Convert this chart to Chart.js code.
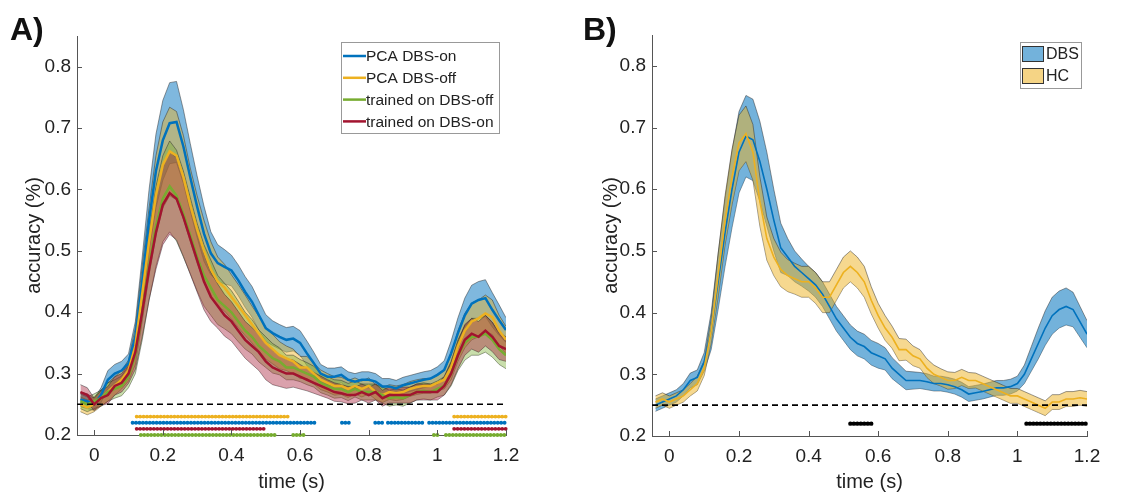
<!DOCTYPE html>
<html>
<head>
<meta charset="utf-8">
<script src="https://cdn.jsdelivr.net/npm/chart.js@4.4.1/dist/chart.umd.min.js"></script>
<style>
    body { margin: 0; background: #fff; }
    #wrap { position: relative; width: 1146px; height: 494px; }
    canvas { position: absolute; top: 0; }
    .tag {
        position: absolute;
        font: bold 32px 'Liberation Sans', Arial, sans-serif;
        line-height: 32px;
        color: #111;
    }
</style>
</head>
<body>
<div id="wrap">
    <canvas id="chartA" width="573" height="494" style="left:0"></canvas>
    <canvas id="chartB" width="573" height="494" style="left:573px"></canvas>
    <div class="tag" style="left:10px;top:13px">A)</div>
    <div class="tag" style="left:583px;top:13px">B)</div>
</div>
<script>
// sample times (s), one value every 20 ms
const times = [-0.04, -0.02, 0.00, 0.02, 0.04, 0.06, 0.08, 0.10, 0.12, 0.14, 0.16, 0.18, 0.20,
    0.22, 0.24, 0.26, 0.28, 0.30, 0.32, 0.34, 0.36, 0.38, 0.40, 0.42, 0.44, 0.46, 0.48, 0.50,
    0.52, 0.54, 0.56, 0.58, 0.60, 0.62, 0.64, 0.66, 0.68, 0.70, 0.72, 0.74, 0.76, 0.78, 0.80,
    0.82, 0.84, 0.86, 0.88, 0.90, 0.92, 0.94, 0.96, 0.98, 1.00, 1.02, 1.04, 1.06, 1.08, 1.10,
    1.12, 1.14, 1.16, 1.18, 1.20];

const xTicks = [0, 0.2, 0.4, 0.6, 0.8, 1, 1.2];
const yTicks = [0.2, 0.3, 0.4, 0.5, 0.6, 0.7, 0.8];
const chanceLevel = 0.25;

// Panel A: mean accuracy and shaded error per decoder
const pcaOnMean = [0.258, 0.255, 0.250, 0.265, 0.290, 0.300, 0.305, 0.317, 0.360, 0.450, 0.550, 0.630,
    0.680, 0.708, 0.710, 0.670, 0.620, 0.572, 0.528, 0.496, 0.480, 0.474, 0.468, 0.452, 0.433,
    0.417, 0.395, 0.374, 0.366, 0.360, 0.355, 0.357, 0.350, 0.333, 0.317, 0.300, 0.295, 0.295,
    0.298, 0.290, 0.287, 0.290, 0.290, 0.287, 0.279, 0.279, 0.276, 0.281, 0.284, 0.287, 0.290,
    0.292, 0.298, 0.306, 0.333, 0.366, 0.395, 0.414, 0.420, 0.423, 0.404, 0.387, 0.371];
const pcaOnErr = [0.012, 0.012, 0.010, 0.012, 0.015, 0.015, 0.015, 0.015, 0.025, 0.040, 0.050, 0.060,
    0.065, 0.066, 0.066, 0.060, 0.055, 0.050, 0.045, 0.035, 0.030, 0.028, 0.025, 0.025, 0.025,
    0.025, 0.024, 0.022, 0.020, 0.020, 0.020, 0.020, 0.020, 0.020, 0.018, 0.015, 0.014, 0.014,
    0.013, 0.013, 0.013, 0.013, 0.013, 0.013, 0.013, 0.013, 0.013, 0.013, 0.013, 0.013, 0.013,
    0.013, 0.013, 0.015, 0.020, 0.025, 0.028, 0.030, 0.030, 0.030, 0.028, 0.025, 0.020];

const pcaOffMean = [0.250, 0.245, 0.250, 0.260, 0.270, 0.280, 0.290, 0.305, 0.345, 0.430, 0.515, 0.590,
    0.640, 0.662, 0.655, 0.620, 0.575, 0.535, 0.500, 0.470, 0.450, 0.440, 0.425, 0.410, 0.395,
    0.380, 0.365, 0.350, 0.340, 0.330, 0.325, 0.320, 0.310, 0.310, 0.300, 0.290, 0.285, 0.280,
    0.280, 0.275, 0.280, 0.275, 0.280, 0.270, 0.265, 0.270, 0.268, 0.270, 0.275, 0.278, 0.280,
    0.280, 0.285, 0.290, 0.310, 0.345, 0.370, 0.385, 0.390, 0.398, 0.392, 0.370, 0.355];
const pcaOffErr = [0.012, 0.012, 0.012, 0.013, 0.015, 0.015, 0.015, 0.017, 0.030, 0.045, 0.055, 0.065,
    0.070, 0.072, 0.072, 0.068, 0.060, 0.055, 0.050, 0.045, 0.040, 0.038, 0.036, 0.035, 0.033,
    0.030, 0.028, 0.026, 0.024, 0.022, 0.020, 0.020, 0.018, 0.018, 0.017, 0.016, 0.015, 0.015,
    0.014, 0.014, 0.013, 0.013, 0.013, 0.012, 0.012, 0.012, 0.012, 0.012, 0.012, 0.012, 0.012,
    0.012, 0.012, 0.015, 0.020, 0.025, 0.028, 0.030, 0.030, 0.030, 0.028, 0.025, 0.022];

const trainedOffMean = [0.255, 0.250, 0.255, 0.260, 0.270, 0.275, 0.280, 0.295, 0.330, 0.400, 0.475,
    0.540, 0.585, 0.605, 0.590, 0.560, 0.525, 0.490, 0.460, 0.440, 0.420, 0.410, 0.400, 0.385,
    0.370, 0.360, 0.345, 0.335, 0.325, 0.320, 0.310, 0.310, 0.305, 0.300, 0.295, 0.285, 0.280,
    0.275, 0.275, 0.270, 0.275, 0.270, 0.270, 0.270, 0.265, 0.260, 0.262, 0.260, 0.265, 0.270,
    0.272, 0.270, 0.275, 0.280, 0.300, 0.330, 0.350, 0.360, 0.360, 0.365, 0.355, 0.340, 0.330];
const trainedOffErr = [0.012, 0.012, 0.012, 0.013, 0.015, 0.015, 0.016, 0.018, 0.030, 0.045, 0.055,
    0.065, 0.070, 0.074, 0.074, 0.070, 0.062, 0.055, 0.050, 0.045, 0.040, 0.037, 0.035, 0.033,
    0.030, 0.028, 0.026, 0.025, 0.024, 0.022, 0.020, 0.020, 0.018, 0.018, 0.017, 0.016, 0.015,
    0.015, 0.014, 0.014, 0.013, 0.013, 0.013, 0.013, 0.013, 0.013, 0.013, 0.013, 0.013, 0.013,
    0.013, 0.013, 0.013, 0.015, 0.020, 0.025, 0.028, 0.030, 0.030, 0.030, 0.028, 0.025, 0.022];

const trainedOnMean = [0.270, 0.265, 0.250, 0.260, 0.265, 0.280, 0.285, 0.300, 0.335, 0.400, 0.470,
    0.530, 0.575, 0.594, 0.585, 0.555, 0.520, 0.485, 0.450, 0.425, 0.410, 0.395, 0.385, 0.370,
    0.355, 0.345, 0.335, 0.320, 0.310, 0.305, 0.300, 0.300, 0.295, 0.290, 0.285, 0.280, 0.275,
    0.270, 0.268, 0.265, 0.265, 0.270, 0.265, 0.270, 0.260, 0.265, 0.265, 0.265, 0.265, 0.270,
    0.270, 0.270, 0.270, 0.280, 0.300, 0.330, 0.355, 0.365, 0.360, 0.370, 0.360, 0.345, 0.340];
const trainedOnErr = [0.012, 0.012, 0.010, 0.012, 0.014, 0.015, 0.015, 0.016, 0.028, 0.040, 0.050,
    0.060, 0.065, 0.067, 0.067, 0.064, 0.058, 0.052, 0.046, 0.040, 0.036, 0.034, 0.032, 0.031,
    0.030, 0.030, 0.030, 0.030, 0.028, 0.026, 0.024, 0.022, 0.020, 0.018, 0.017, 0.016, 0.015,
    0.015, 0.014, 0.014, 0.013, 0.013, 0.013, 0.013, 0.013, 0.013, 0.013, 0.013, 0.013, 0.013,
    0.013, 0.013, 0.013, 0.015, 0.018, 0.022, 0.025, 0.025, 0.025, 0.025, 0.024, 0.022, 0.020];

// Panel A: significant time windows [start, end] per decoder
const sigPcaOff = [[0.124, 0.565], [1.049, 1.2]];
const sigPcaOn = [[0.112, 0.646], [0.722, 0.744], [0.819, 0.841], [0.856, 0.961], [0.976, 1.2]];
const sigTrainedOn = [[0.124, 0.503], [1.049, 1.2]];
const sigTrainedOff = [[0.136, 0.530], [0.580, 0.613], [0.990, 1.009], [1.025, 1.2]];

// Panel B: DBS patients vs healthy controls
const dbsMean = [0.250, 0.255, 0.260, 0.265, 0.275, 0.290, 0.295, 0.320, 0.370, 0.450, 0.530, 0.600,
    0.660, 0.686, 0.680, 0.645, 0.600, 0.550, 0.505, 0.490, 0.475, 0.465, 0.455, 0.445, 0.430,
    0.410, 0.390, 0.375, 0.360, 0.350, 0.345, 0.335, 0.330, 0.325, 0.310, 0.300, 0.290, 0.290,
    0.290, 0.288, 0.285, 0.285, 0.283, 0.280, 0.275, 0.268, 0.270, 0.272, 0.275, 0.278, 0.278,
    0.280, 0.285, 0.300, 0.325, 0.350, 0.375, 0.395, 0.405, 0.410, 0.405, 0.385, 0.365];
const dbsErr = [0.010, 0.010, 0.010, 0.010, 0.010, 0.012, 0.012, 0.015, 0.030, 0.045, 0.055, 0.062,
    0.066, 0.066, 0.066, 0.065, 0.060, 0.050, 0.040, 0.030, 0.025, 0.022, 0.020, 0.020, 0.020,
    0.020, 0.020, 0.020, 0.020, 0.020, 0.020, 0.020, 0.020, 0.018, 0.017, 0.016, 0.015, 0.014,
    0.013, 0.013, 0.012, 0.012, 0.012, 0.012, 0.012, 0.012, 0.012, 0.012, 0.012, 0.012, 0.012,
    0.012, 0.012, 0.015, 0.020, 0.025, 0.028, 0.030, 0.030, 0.030, 0.028, 0.025, 0.022];

const hcMean = [0.255, 0.260, 0.255, 0.260, 0.265, 0.275, 0.285, 0.310, 0.370, 0.460, 0.550, 0.620,
    0.675, 0.690, 0.660, 0.580, 0.520, 0.490, 0.470, 0.460, 0.455, 0.450, 0.450, 0.440, 0.425,
    0.425, 0.445, 0.465, 0.475, 0.465, 0.450, 0.420, 0.395, 0.375, 0.360, 0.340, 0.340, 0.330,
    0.325, 0.310, 0.300, 0.295, 0.290, 0.290, 0.295, 0.290, 0.290, 0.285, 0.280, 0.275, 0.270,
    0.265, 0.265, 0.260, 0.255, 0.250, 0.245, 0.255, 0.255, 0.260, 0.260, 0.262, 0.260];
const hcErr = [0.010, 0.010, 0.010, 0.010, 0.010, 0.010, 0.012, 0.012, 0.020, 0.035, 0.040, 0.045,
    0.045, 0.045, 0.045, 0.040, 0.035, 0.030, 0.028, 0.026, 0.025, 0.025, 0.025, 0.025, 0.025,
    0.025, 0.025, 0.025, 0.025, 0.025, 0.025, 0.022, 0.020, 0.020, 0.018, 0.018, 0.017, 0.016,
    0.015, 0.015, 0.015, 0.014, 0.014, 0.013, 0.013, 0.013, 0.012, 0.012, 0.012, 0.012, 0.012,
    0.012, 0.012, 0.012, 0.012, 0.012, 0.012, 0.012, 0.012, 0.012, 0.012, 0.012, 0.012];

const sigGroup = [[0.520, 0.589], [1.026, 1.2]];

// MATLAB default colours
const BLUE = '#0072BD';
const YELLOW = '#EDB120';
const GREEN = '#77AC30';
const RED = '#A2142F';
const EDGE = 'rgba(40, 40, 40, 0.6)';
const FONT = "'Liberation Sans', Arial, sans-serif";

function rgba(hex, a) {
    const n = parseInt(hex.slice(1), 16);
    return `rgba(${n >> 16}, ${(n >> 8) & 255}, ${n & 255}, ${a})`;
}

/**
 * Upper and lower edge of a shaded error band, filled in between.
 */
function band(mean, err, color, alpha, order) {
    const edge = {
        borderColor: EDGE, borderWidth: 0.8, pointRadius: 0, tension: 0, order
    };
    return [
        { ...edge, data: times.map((t, i) => ({ x: t, y: mean[i] + err[i] })),
          fill: '+1', backgroundColor: rgba(color, alpha) },
        { ...edge, data: times.map((t, i) => ({ x: t, y: mean[i] - err[i] })), fill: false }
    ];
}

function meanLine(mean, color, width, order) {
    return {
        data: times.map((t, i) => ({ x: t, y: mean[i] })),
        borderColor: color, borderWidth: width, pointRadius: 0, tension: 0, fill: false, order
    };
}

// dotted row of significant samples, drawn as a round-capped dash pattern
function sigRow(windows, level, color, size, gap) {
    const data = [];
    windows.forEach(([s, e]) => {
        data.push({ x: s, y: level }, { x: e, y: level }, { x: e, y: null });
    });
    return {
        data, borderColor: color, borderWidth: size, borderDash: [0.01, gap],
        borderCapStyle: 'round', pointRadius: 0, spanGaps: false, fill: false, clip: false, order: 0
    };
}

function chanceLine() {
    return {
        data: [{ x: -0.05, y: chanceLevel }, { x: 1.2, y: chanceLevel }],
        borderColor: '#000', borderWidth: 1.6, borderDash: [6, 4], pointRadius: 0, fill: false, order: 0
    };
}

// inward tick marks, like MATLAB axes
const innerTicks = {
    id: 'innerTicks',
    afterDatasetsDraw(chart) {
        const { ctx, chartArea: a, scales: { x, y } } = chart;
        ctx.save();
        ctx.strokeStyle = '#555';
        ctx.lineWidth = 1;
        ctx.beginPath();
        xTicks.forEach(v => {
            const px = Math.round(x.getPixelForValue(v)) + 0.5;
            ctx.moveTo(px, a.bottom);
            ctx.lineTo(px, a.bottom - 5);
        });
        yTicks.forEach(v => {
            const py = Math.round(y.getPixelForValue(v)) + 0.5;
            ctx.moveTo(a.left, py);
            ctx.lineTo(a.left + 5, py);
        });
        ctx.stroke();
        ctx.restore();
    }
};

/**
 * Boxed legend drawn inside the axes (line samples or filled patches).
 */
function boxLegend(box, items, patch) {
    return {
        id: 'boxLegend',
        afterDraw(chart) {
            const ctx = chart.ctx;
            ctx.save();
            ctx.fillStyle = '#fff';
            ctx.strokeStyle = '#999';
            ctx.lineWidth = 1;
            ctx.fillRect(box.x, box.y, box.w, box.h);
            ctx.strokeRect(box.x + 0.5, box.y + 0.5, box.w, box.h);
            ctx.font = `${box.font}px ${FONT}`;
            ctx.textBaseline = 'middle';
            items.forEach((it, i) => {
                const cy = box.y + box.first + i * box.step;
                if (patch) {
                    ctx.fillStyle = rgba(it.color, 0.55);
                    ctx.fillRect(box.x + 2, cy - 7.5, 22, 15);
                    ctx.strokeStyle = '#333';
                    ctx.strokeRect(box.x + 2.5, cy - 7.5, 21, 15);
                    ctx.fillStyle = '#222';
                    ctx.fillText(it.label, box.x + 26, cy + 1);
                } else {
                    ctx.strokeStyle = it.color;
                    ctx.lineWidth = 2.5;
                    ctx.beginPath();
                    ctx.moveTo(box.x + 2, cy);
                    ctx.lineTo(box.x + 25, cy);
                    ctx.stroke();
                    ctx.fillStyle = '#222';
                    ctx.fillText(it.label, box.x + 25, cy + 1);
                }
            });
            ctx.restore();
        }
    };
}

function axesOptions(pad, yWidth, xHeight, yTitlePad) {
    return {
        responsive: false,
        animation: false,
        layout: { padding: { top: pad.top, right: pad.right, left: 0, bottom: 0 } },
        plugins: { legend: { display: false }, tooltip: { enabled: false } },
        scales: {
            x: {
                type: 'linear', min: -0.05, max: 1.2,
                afterBuildTicks: s => { s.ticks = xTicks.map(v => ({ value: v })); },
                afterFit: s => { s.height = xHeight; },
                ticks: {
                    color: '#222', padding: 9, maxRotation: 0, autoSkip: false,
                    font: { family: FONT, size: 19 },
                    callback: v => String(Math.round(v * 10) / 10)
                },
                grid: { display: false, drawTicks: false },
                border: { display: true, color: '#555', width: 1 },
                title: {
                    display: true, text: 'time (s)', color: '#222',
                    font: { family: FONT, size: 20 }, padding: { top: 0, bottom: 0 }
                }
            },
            y: {
                min: 0.2, max: 0.85,
                afterBuildTicks: s => { s.ticks = yTicks.map(v => ({ value: v })); },
                afterFit: s => { s.width = yWidth; },
                ticks: {
                    color: '#222', padding: 6,
                    font: { family: FONT, size: 19 },
                    callback: v => String(Math.round(v * 10) / 10)
                },
                grid: { display: false, drawTicks: false },
                border: { display: true, color: '#555', width: 1 },
                title: {
                    display: true, text: 'accuracy (%)', color: '#222',
                    font: { family: FONT, size: 20 }, padding: { top: yTitlePad, bottom: 0 }
                }
            }
        }
    };
}

// Panel A
const datasetsA = [
    ...band(pcaOnMean, pcaOnErr, BLUE, 0.5, 10),
    ...band(pcaOffMean, pcaOffErr, YELLOW, 0.45, 9),
    ...band(trainedOffMean, trainedOffErr, GREEN, 0.4, 8),
    ...band(trainedOnMean, trainedOnErr, RED, 0.4, 7),
    meanLine(pcaOnMean, BLUE, 2.5, 4),
    meanLine(pcaOffMean, YELLOW, 2.5, 3),
    meanLine(trainedOffMean, GREEN, 2.5, 2),
    meanLine(trainedOnMean, RED, 2.5, 1),
    chanceLine(),
    sigRow(sigPcaOff, 0.23, YELLOW, 3.9, 3.42),
    sigRow(sigPcaOn, 0.22, BLUE, 3.9, 3.42),
    sigRow(sigTrainedOn, 0.21, RED, 3.9, 3.42),
    sigRow(sigTrainedOff, 0.20, GREEN, 3.9, 3.42)
];

new Chart(document.getElementById('chartA'), {
    type: 'line',
    data: { datasets: datasetsA },
    options: axesOptions({ top: 36, right: 67 }, 77, 59, 22),
    plugins: [innerTicks, boxLegend({ x: 341, y: 42, w: 158, h: 91, first: 14, step: 21.8, font: 15.5 }, [
        { label: 'PCA DBS-on', color: BLUE },
        { label: 'PCA DBS-off', color: YELLOW },
        { label: 'trained on DBS-off', color: GREEN },
        { label: 'trained on DBS-on', color: RED }
    ], false)]
});

// Panel B
const datasetsB = [
    ...band(dbsMean, dbsErr, BLUE, 0.55, 10),
    ...band(hcMean, hcErr, YELLOW, 0.5, 9),
    meanLine(dbsMean, BLUE, 1.6, 2),
    meanLine(hcMean, YELLOW, 1.6, 1),
    chanceLine(),
    sigRow(sigGroup, 0.22, '#000', 4.4, 3.47)
];

new Chart(document.getElementById('chartB'), {
    type: 'line',
    data: { datasets: datasetsB },
    options: axesOptions({ top: 35, right: 59 }, 79, 58, 26),
    plugins: [innerTicks, boxLegend({ x: 447, y: 42, w: 61, h: 46, first: 12, step: 22, font: 16 }, [
        { label: 'DBS', color: BLUE },
        { label: 'HC', color: YELLOW }
    ], true)]
});
</script>
</body>
</html>
